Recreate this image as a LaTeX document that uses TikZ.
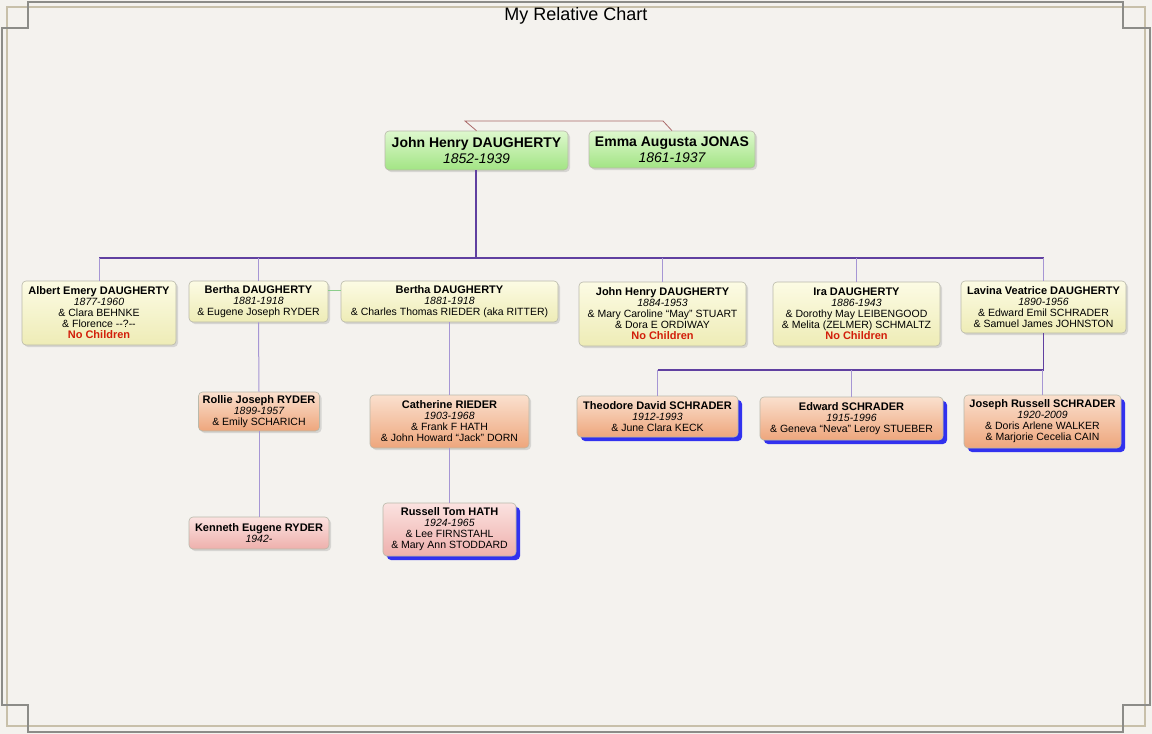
\documentclass[tikz,border=0pt]{standalone}
\usepackage{fontspec}
\setmainfont{Liberation Sans}
\usetikzlibrary{shadows, positioning, calc}

\definecolor{paper}{RGB}{244,242,238}
\definecolor{frametan}{RGB}{200,192,170}
\definecolor{framegray}{RGB}{140,140,136}
\definecolor{boxline}{RGB}{185,185,170}
\definecolor{greentop}{RGB}{222,248,206}
\definecolor{greenbot}{RGB}{162,228,132}
\definecolor{yellowtop}{RGB}{252,251,228}
\definecolor{yellowbot}{RGB}{238,236,182}
\definecolor{orangetop}{RGB}{250,224,206}
\definecolor{orangebot}{RGB}{238,166,124}
\definecolor{pinktop}{RGB}{251,226,224}
\definecolor{pinkbot}{RGB}{238,176,172}
\definecolor{descent}{RGB}{96,64,160}
\definecolor{dropline}{RGB}{166,150,212}
\definecolor{samelink}{RGB}{140,206,140}
\definecolor{spouseline}{RGB}{170,104,104}
\definecolor{nokidred}{RGB}{210,30,10}
\definecolor{shadowblue}{RGB}{30,30,240}

\newcommand{\pname}[1]{{\fontsize{11}{11}\selectfont\bfseries #1}}
\newcommand{\pyears}[1]{{\itshape #1}}
\newcommand{\nokids}{{\fontsize{11}{11}\selectfont\bfseries\color{nokidred}No Children}}

\begin{document}
\begin{tikzpicture}[
      x=1pt, y=-1pt,
      person/.style={draw=boxline, line width=0.6pt, rounded corners=4pt,
        align=center, inner sep=2pt, font=\fontsize{10.5}{11}\selectfont,
        drop shadow={shadow xshift=2pt, shadow yshift=-2pt, opacity=.25}},
      blueshadow/.style={drop shadow={shadow xshift=4pt, shadow yshift=-4pt,
        fill=shadowblue, opacity=.9}},
      couple/.style={person, top color=greentop, bottom color=greenbot,
        font=\fontsize{14}{16}\selectfont},
      child/.style={person, top color=yellowtop, bottom color=yellowbot},
      grandchild/.style={person, top color=orangetop, bottom color=orangebot},
      greatgrand/.style={person, top color=pinktop, bottom color=pinkbot},
      descentline/.style={draw=descent, line width=1.4pt},
      drop/.style={draw=dropline, line width=1pt},
      spouse/.style={draw=spouseline, line width=0.8pt}
    ]
    % page and frame
    \useasboundingbox (0,0) rectangle (1152,734);
    \fill[paper] (0,0) rectangle (1152,734);
    \draw[frametan, line width=1.5pt] (7,7) rectangle (1145,726);
    \draw[framegray, line width=1.4pt] (28,2) -- (1123,2) -- (1123,28) -- (1150,28)
      -- (1150,705) -- (1123,705) -- (1123,732) -- (28,732) -- (28,705) -- (2,705)
      -- (2,28) -- (28,28) -- cycle;
    \node[font=\fontsize{18}{20}\selectfont] (title) at (576,16) {My Relative Chart};

    % the couple
    \node[couple, minimum width=183pt, minimum height=39pt] (john) at (476.5,150.5)
      {\textbf{John Henry DAUGHERTY}\\\pyears{1852-1939}};
    \node[couple, minimum width=166pt, minimum height=37pt] (emma) at (672,149.5)
      {\textbf{Emma Augusta JONAS}\\\pyears{1861-1937}};
    \coordinate (spouseL) at (465,121);
    \coordinate (spouseR) at (663,121);
    \draw[spouse] (john.north) -- (spouseL) -- (spouseR) -- (emma.north);

    % children
    \node[child, minimum width=154pt, minimum height=64pt] (albert) at (99,313)
      {\pname{Albert Emery DAUGHERTY}\\\pyears{1877-1960}\\\& Clara BEHNKE\\\& Florence -{}-?-{}-\\\nokids};
    \node[child, minimum width=139pt, minimum height=41pt] (bertha1) at (258.5,301.5)
      {\pname{Bertha DAUGHERTY}\\\pyears{1881-1918}\\\& Eugene Joseph RYDER};
    \node[child, minimum width=217pt, minimum height=41pt] (bertha2) at (449.5,301.5)
      {\pname{Bertha DAUGHERTY}\\\pyears{1881-1918}\\\& Charles Thomas RIEDER (aka RITTER)};
    \node[child, minimum width=167pt, minimum height=64pt] (johnjr) at (662.5,314)
      {\pname{John Henry DAUGHERTY}\\\pyears{1884-1953}\\\& Mary Caroline “May” STUART\\\& Dora E ORDIWAY\\\nokids};
    \node[child, minimum width=167pt, minimum height=64pt] (ira) at (856.5,314)
      {\pname{Ira DAUGHERTY}\\\pyears{1886-1943}\\\& Dorothy May LEIBENGOOD\\\& Melita (ZELMER) SCHMALTZ\\\nokids};
    \node[child, minimum width=165pt, minimum height=52pt] (lavina) at (1043.5,307)
      {\pname{Lavina Veatrice DAUGHERTY}\\\pyears{1890-1956}\\\& Edward Emil SCHRADER\\\& Samuel James JOHNSTON};

    % grandchildren
    \node[grandchild, minimum width=121pt, minimum height=39pt] (rollie) at (259,411.5)
      {\pname{Rollie Joseph RYDER}\\\pyears{1899-1957}\\\& Emily SCHARICH};
    \node[grandchild, minimum width=159pt, minimum height=53pt] (catherine) at (449.5,421.5)
      {\pname{Catherine RIEDER}\\\pyears{1903-1968}\\\& Frank F HATH\\\& John Howard “Jack” DORN};
    \node[grandchild, blueshadow, minimum width=161pt, minimum height=41pt] (theodore) at (657.5,416.5)
      {\pname{Theodore David SCHRADER}\\\pyears{1912-1993}\\\& June Clara KECK};
    \node[grandchild, blueshadow, minimum width=183pt, minimum height=43pt] (edward) at (851.5,418.5)
      {\pname{Edward SCHRADER}\\\pyears{1915-1996}\\\& Geneva “Neva” Leroy STUEBER};
    \node[grandchild, blueshadow, minimum width=157pt, minimum height=53pt] (joseph) at (1042.5,421.5)
      {\pname{Joseph Russell SCHRADER}\\\pyears{1920-2009}\\\& Doris Arlene WALKER\\\& Marjorie Cecelia CAIN};

    % great-grandchildren
    \node[greatgrand, minimum width=140pt, minimum height=32pt] (kenneth) at (259,533)
      {\pname{Kenneth Eugene RYDER}\\\pyears{1942-}};
    \node[greatgrand, blueshadow, minimum width=133pt, minimum height=53pt] (russell) at (449.5,529.5)
      {\pname{Russell Tom HATH}\\\pyears{1924-1965}\\\& Lee FIRNSTAHL\\\& Mary Ann STODDARD};

    % connectors
    \coordinate (bus) at (476,258);
    \draw[descentline] (john.south -| bus) -- (bus);
    \draw[descentline] (albert.north |- bus) -- (lavina.north |- bus);
    \foreach \kid in {albert, bertha1, johnjr, ira, lavina}
      \draw[drop] (\kid.north) -- (\kid.north |- bus);
    \draw[draw=samelink, line width=1pt] ([yshift=11.5pt]bertha1.east) -- ([yshift=11.5pt]bertha1.east -| bertha2.west);

    \coordinate (schraderbus) at (1044,370);
    \draw[descentline] (lavina.south) -- (lavina.south |- schraderbus);
    \draw[descentline] (theodore.north |- schraderbus) -- (lavina.south |- schraderbus);
    \foreach \kid in {theodore, edward, joseph}
      \draw[drop] (\kid.north) -- (\kid.north |- schraderbus);

    \draw[drop] (bertha1.south) -- (rollie.north);
    \draw[drop] (rollie.south) -- (kenneth.north);
    \draw[drop] (bertha2.south) -- (catherine.north);
    \draw[drop] (catherine.south) -- (russell.north);
  \end{tikzpicture}
\end{document}
